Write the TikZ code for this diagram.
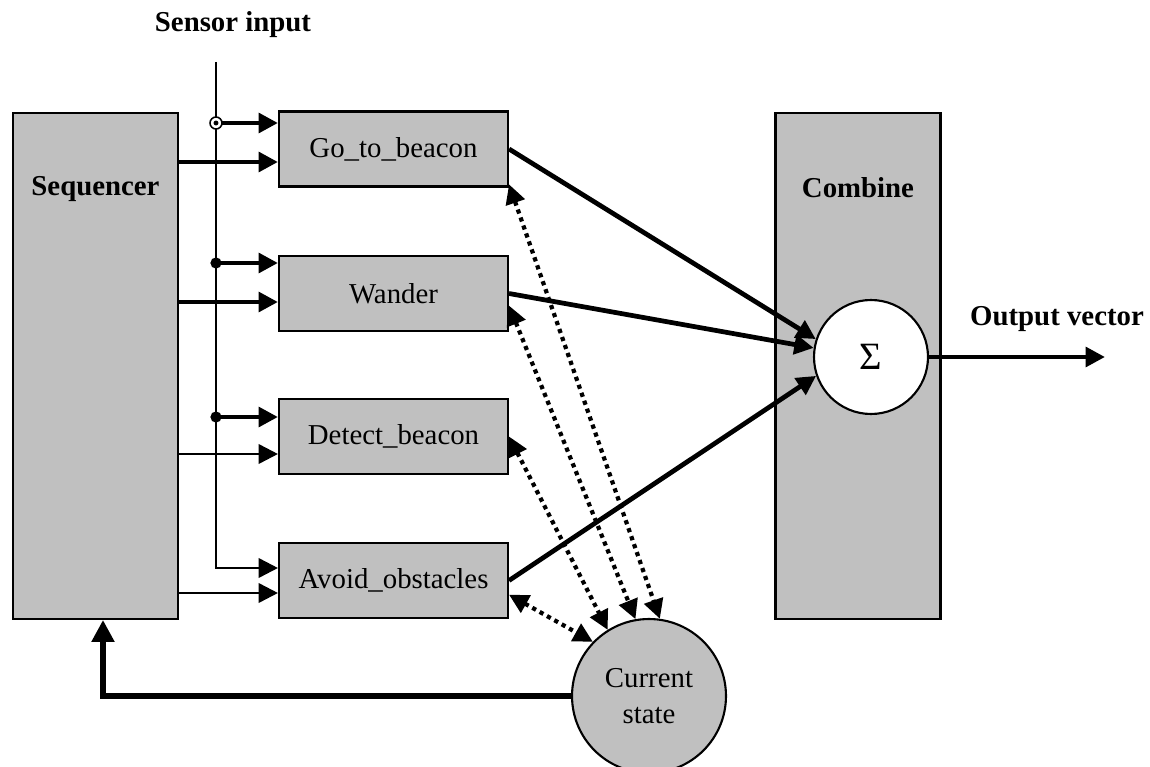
\documentclass[tikz,border=0pt]{standalone}
\usepackage{fontspec}
\setmainfont{Liberation Serif}
\usepackage{tikz}
\usetikzlibrary{arrows.meta,calc}
\definecolor{boxgray}{RGB}{192,192,192}

\begin{document}
\begin{tikzpicture}[x=0.02cm,y=-0.02cm,
  block/.style={draw,line width=1.2pt,fill=boxgray,minimum width=4.58cm,minimum height=1.5cm,inner sep=0pt,font=\fontsize{16.4}{20}\selectfont},
  tallblock/.style={draw,line width=1.2pt,fill=boxgray,minimum width=3.3cm,minimum height=10.12cm,inner sep=0pt},
  lbl/.style={anchor=base,inner sep=0pt,font=\fontsize{16.4}{20}\selectfont\bfseries},
  thinarr/.style={line width=1.5pt,-{Triangle[length=11pt,width=11pt]}},
  thickarr/.style={line width=2.7pt,-{Triangle[length=11pt,width=11pt]}},
  dotarr/.style={line width=2.4pt,dash pattern=on 2.4pt off 2.4pt,{Triangle[length=11pt,width=11pt]}-{Triangle[length=11pt,width=11pt]}}]
\useasboundingbox (0,0) rectangle (1150,767);
\node[tallblock] (seq) at (95.5,366) {};
\node[tallblock] (comb) at (858,366) {};
\node[lbl] (seqlbl) at (95.5,195) {Sequencer};
\node[lbl] (comblbl) at (858,197) {Combine};
\node[lbl] (senslbl) at (233,32) {Sensor input};
\node[lbl] (outlbl) at (1057,325) {Output vector};
\node[block] (go) at (393.5,149) {Go\_to\_beacon};
\node[block] (wander) at (393.5,293.5) {Wander};
\node[block] (detect) at (393.5,436.5) {Detect\_beacon};
\node[block] (avoid) at (393.5,580.5) {Avoid\_obstacles};
\node[circle,draw,line width=1.2pt,fill=white,minimum size=2.28cm,inner sep=0pt,font=\fontsize{22}{24}\selectfont] (sum) at (871,357) {Σ};
\node[circle,draw,line width=1.2pt,fill=boxgray,minimum size=3.08cm,inner sep=0pt,align=center,font=\fontsize{16.4}{20.4}\selectfont] (cur) at (649,696) {Current\\state};
\coordinate (sens) at (216,62);
\coordinate (corner) at (216,568);
\coordinate (j1) at (216,123);
\coordinate (j2) at (216,263);
\coordinate (j3) at (216,417);
\coordinate (q1) at (178,162);
\coordinate (q2) at (178,302);
\coordinate (q3) at (178,454);
\coordinate (q4) at (178,593);
\coordinate (fb) at (103,696);
\coordinate (outend) at (1105,357);
\draw[thinarr] (sens) -- (corner) -- (corner -| avoid.west);
\draw[thickarr] (j1) -- (j1 -| go.west);
\draw[thickarr] (j2) -- (j2 -| wander.west);
\draw[thickarr] (j3) -- (j3 -| detect.west);
\draw[thickarr] (q1) -- (q1 -| go.west);
\draw[thickarr] (q2) -- (q2 -| wander.west);
\draw[thinarr] (q3) -- (q3 -| detect.west);
\draw[thinarr] (q4) -- (q4 -| avoid.west);
\draw[line width=0.9pt,fill=white] (j1) circle (3.4pt);
\fill (j1) circle (1.4pt);
\fill (j2) circle (3.2pt);
\fill (j3) circle (3.2pt);
\draw[thickarr] (go.east) -- (sum.162);
\draw[thickarr] (wander.east) -- (sum.171);
\draw[thickarr] (avoid.east) -- (sum.199);
\draw[thickarr] (sum.east) -- (outend);
\draw[dotarr] (go.-17) -- (cur.82);
\draw[dotarr] (wander.-6) -- (cur.100);
\draw[dotarr] (detect.east) -- (cur.122);
\draw[dotarr] (avoid.-7) -- (cur.136);
\draw[line width=3pt,-{Triangle[length=12.5pt,width=12.5pt]}] (cur.west) -- (fb) -- (fb |- seq.south);
\end{tikzpicture}
\end{document}
